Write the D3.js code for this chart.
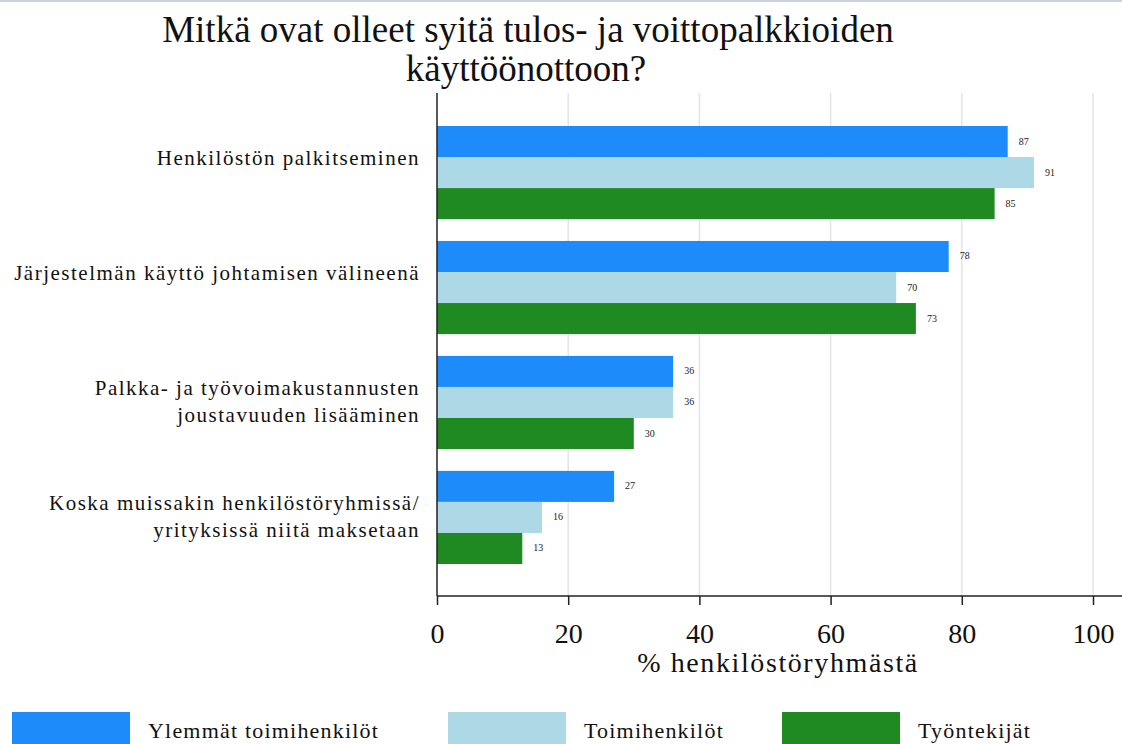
<html>
<head>
<script src="https://d3js.org/d3.v7.min.js"></script>
<style>
  body { margin: 0; background: #fff; }
</style>
</head>
<body>
<svg id="chart" width="1122" height="744"></svg>
<script>
// data
const categories = [
  ['Henkilöstön palkitseminen'],
  ['Järjestelmän käyttö johtamisen välineenä'],
  ['Palkka- ja työvoimakustannusten', 'joustavuuden lisääminen'],
  ['Koska muissakin henkilöstöryhmissä/', 'yrityksissä niitä maksetaan']
];
const seriesNames = ['Ylemmät toimihenkilöt', 'Toimihenkilöt', 'Työntekijät'];
const seriesColors = ['#1e8bfb', '#add8e6', '#1f8a22'];
const ylemmat = [87, 78, 36, 27];
const toimihenkilot = [91, 70, 36, 16];
const tyontekijat = [85, 73, 30, 13];
const xTicks = [0, 20, 40, 60, 80, 100];

const FONT = '"Liberation Serif", "Times New Roman", serif';
const values = [ylemmat, toimihenkilot, tyontekijat];
const rows = categories.map((c, i) => ({
  label: c,
  vals: values.map((s, k) => ({ k: k, v: s[i] }))
}));

const svg = d3.select('svg#chart').style('font-family', FONT);
const plotTop = 93, plotBottom = 596, x0 = 437;

// top screenshot border
svg.append('rect').attr('x', 0).attr('y', 0).attr('width', 1122).attr('height', 2).attr('fill', '#c9d3de');

const x = d3.scaleLinear().domain([0, 100]).range([x0, 1093]);
const y = d3.scaleBand().domain(d3.range(categories.length)).range([126, 564])
  .paddingInner(0.19).paddingOuter(0);
const yInner = d3.scaleBand().domain(d3.range(3)).range([0, y.bandwidth()]);

// title
const title = svg.append('text').attr('text-anchor', 'middle')
  .style('font-family', FONT).attr('font-size', 37).attr('fill', '#111');
title.append('tspan').attr('x', 528).attr('y', 42).text('Mitkä ovat olleet syitä tulos- ja voittopalkkioiden');
title.append('tspan').attr('x', 526).attr('y', 81).text('käyttöönottoon?');

// gridlines
svg.append('g').selectAll('line').data(xTicks.slice(1)).join('line')
  .attr('x1', d => x(d)).attr('x2', d => x(d))
  .attr('y1', plotTop).attr('y2', plotBottom)
  .attr('stroke', '#e4e4e4').attr('stroke-width', 1.5);

// bars
const groups = svg.append('g').selectAll('g').data(rows).join('g')
  .attr('transform', (d, i) => `translate(0,${y(i)})`);

groups.selectAll('rect').data(d => d.vals).join('rect')
  .attr('x', x(0))
  .attr('y', d => yInner(d.k))
  .attr('width', d => x(d.v) - x(0))
  .attr('height', yInner.bandwidth())
  .attr('fill', d => seriesColors[d.k]);

groups.selectAll('text.val').data(d => d.vals).join('text')
  .attr('class', 'val')
  .attr('x', d => x(d.v) + 11)
  .attr('y', d => yInner(d.k) + yInner.bandwidth() / 2 + 3)
  .style('font-family', FONT).attr('font-size', 10).attr('fill', '#222')
  .text(d => d.v);

// category labels: laid out as two lines, single ones sit on the first line
groups.each(function(d) {
  const g = d3.select(this);
  const mid = y.bandwidth() / 2;
  d.label.forEach((line, j) => {
    g.append('text')
      .attr('x', 420)
      .attr('y', mid + 6 + (j - 0.5) * 27)
      .attr('text-anchor', 'end')
      .style('font-family', FONT).attr('font-size', 21).attr('letter-spacing', 1.5)
      .attr('fill', '#111')
      .text(line);
  });
});

// axes
svg.append('line').attr('x1', x0).attr('x2', x0).attr('y1', plotTop).attr('y2', plotBottom)
  .attr('stroke', '#222').attr('stroke-width', 1.5);

const xAxis = svg.append('g').attr('transform', `translate(0,${plotBottom})`)
  .call(d3.axisBottom(x).tickValues(xTicks).tickSize(9).tickSizeOuter(0));
xAxis.select('.domain').remove();
xAxis.append('line').attr('x1', x0).attr('x2', 1122).attr('stroke', '#222').attr('stroke-width', 1.5);
xAxis.selectAll('.tick line').attr('stroke', '#222').attr('stroke-width', 1.5);
xAxis.selectAll('.tick text')
  .style('font-family', FONT)
  .attr('font-size', 28).attr('fill', '#111').attr('dy', 0).attr('y', 47);

svg.append('text').attr('x', 778).attr('y', 672).attr('text-anchor', 'middle')
  .style('font-family', FONT).attr('font-size', 28).attr('fill', '#111')
  .attr('letter-spacing', 1.6).text('% henkilöstöryhmästä');

// legend
const legendX = [12, 448, 782];
const legend = svg.append('g').selectAll('g').data(seriesNames).join('g')
  .attr('transform', (d, i) => `translate(${legendX[i]},712)`);
legend.append('rect').attr('width', 118).attr('height', 34)
  .attr('fill', (d, i) => seriesColors[i]);
legend.append('text').attr('x', 136).attr('y', 26)
  .style('font-family', FONT).attr('font-size', 22).attr('letter-spacing', 1.2)
  .attr('fill', '#111').text(d => d);
</script>
</body>
</html>
